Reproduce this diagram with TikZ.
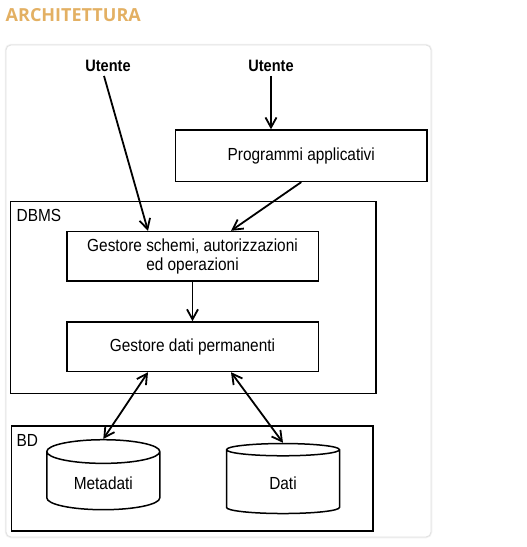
\documentclass[tikz,border=0pt]{standalone}
\usepackage{fontspec}
\setmainfont{Liberation Sans}[FakeStretch=0.88]
\newfontfamily\titlefont{Open Sans}
\usetikzlibrary{arrows.meta,shapes.geometric}

\definecolor{arancio}{HTML}{E3B063}

\tikzset{
  testo/.style={font=\fontsize{17.5}{19}\selectfont},
  blocco/.style={draw, line width=1.5pt, testo, align=center, minimum width=251.5pt, minimum height=49.5pt},
  contenitore/.style={draw, line width=1.5pt},
  etichetta/.style={anchor=base west, inner sep=0pt, testo},
  utente/.style={font=\bfseries\fontsize{16.5}{18}\selectfont, inner sep=4pt},
  archivio/.style={cylinder, shape border rotate=90, draw, line width=1.5pt, testo,
    minimum width=113pt, minimum height=70pt, aspect=0.36},
  freccia/.style={line width=1.8pt, -{Straight Barb[length=10pt,width=11pt]}},
  doppia/.style={line width=1.8pt, {Straight Barb[length=10pt,width=11pt]}-{Straight Barb[length=10pt,width=11pt]}}
}

\begin{document}
\begin{tikzpicture}[x=1pt,y=-1pt]
        \useasboundingbox (0,0) rectangle (527,547);

        % Titolo
        \node[anchor=base west, inner sep=0pt, text=arancio, font=\titlefont\bfseries\fontsize{18}{22}\selectfont] (titolo) at (5.5,21) {ARCHITETTURA};

        % Scheda
        \draw[black!5, line width=2.5pt, rounded corners=5pt] (6,45) rectangle (431,537);
        \draw[black!12, fill=white, line width=0.8pt, rounded corners=5pt] (6,45) rectangle (431,537);

        % Utenti
        \node[utente] (ut1) at (108,66) {Utente};
        \node[utente] (ut2) at (271,66) {Utente};

        % Programmi applicativi
        \node[blocco, minimum height=51.3pt] (prog) at (301.3,155.7) {Programmi applicativi};

        % DBMS
        \node[contenitore, minimum width=365.3pt, minimum height=191.6pt] (dbms) at (193.3,297.5) {};
        \node[etichetta] (ldbms) at (16.5,221.7) {DBMS};
        \node[blocco] (gsch) at (192.5,256.3) {Gestore schemi, autorizzazioni\\ed operazioni};
        \node[blocco] (gdati) at (192.5,346.7) {Gestore dati permanenti};

        % BD
        \node[contenitore, minimum width=361.3pt, minimum height=105pt] (bd) at (192.3,478.5) {};
        \node[etichetta] (lbd) at (16.5,446.5) {BD};
        \node[archivio] (meta) at (103.3,483) {Metadati};
        \node[archivio] (dati) at (283,483) {Dati};

        % Frecce
        \draw[freccia] ([xshift=-4pt]ut1.south) -- ([xshift=-44.5pt]gsch.north);
        \draw[freccia] (ut2.south) -- (ut2.south |- prog.north);
        \draw[freccia] (prog.south) -- ([xshift=38.5pt]gsch.north);
        \draw[freccia] (gsch.south) -- (gdati.north);
        \draw[doppia] ([xshift=-44.5pt]gdati.south) -- (meta.north);
        \draw[doppia] ([xshift=38.5pt]gdati.south) -- (dati.north);
    \end{tikzpicture}
\end{document}
